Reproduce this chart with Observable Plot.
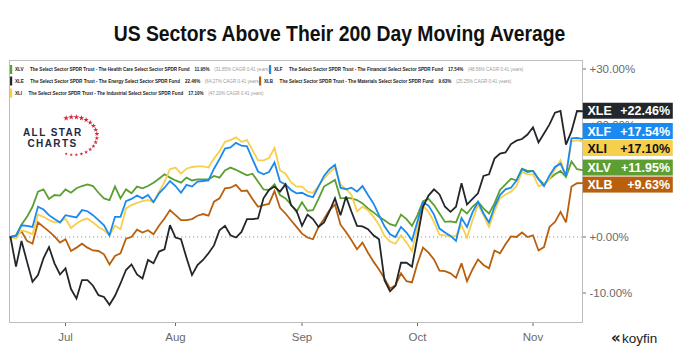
<!DOCTYPE html>
<html><head><meta charset="utf-8">
<script src="https://cdn.jsdelivr.net/npm/d3@7"></script>
<script src="https://cdn.jsdelivr.net/npm/@observablehq/plot@0.6"></script>
<style>
body{margin:0;background:#fff;}
#wrap{position:relative;width:679px;height:352px;overflow:hidden;font-family:"Liberation Sans",Arial,sans-serif;}
#title{position:absolute;left:0;width:679px;top:21px;text-align:center;font-family:"Liberation Sans",Arial,sans-serif;font-weight:bold;font-size:21.5px;color:#111;line-height:26px;transform:scaleX(0.9);transform-origin:339.5px 0;}
#chart{position:absolute;left:0;top:0;}
#deco{position:absolute;left:0;top:0;pointer-events:none;}
</style></head><body>
<div id="wrap"><div id="chart"></div><svg id="deco" width="679" height="352"></svg><div id="title">US Sectors Above Their 200 Day Moving Average</div></div>
<script>
// ---- data (percent change vs start, trading days Jun 16 - Nov 14) ----
const tickers = ["XLV", "XLF", "XLE", "XLB", "XLI"];
const fundNames = [
  "The Select Sector SPDR Trust - The Health Care Select Sector SPDR Fund",
  "The Select Sector SPDR Trust - The Financial Select Sector SPDR Fund",
  "The Select Sector SPDR Trust - The Energy Select Sector SPDR Fund",
  "The Select Sector SPDR Trust - The Materials Select Sector SPDR Fund",
  "The Select Sector SPDR Trust - The Industrial Select Sector SPDR Fund"
];
const cagrText = ["(31.85% CAGR 0.41 years)", "(48.56% CAGR 0.41 years)", "(64.27% CAGR 0.41 years)", "(25.25% CAGR 0.41 years)", "(47.20% CAGR 0.41 years)"];
const colors = ["#5c9e31", "#1b8af0", "#23272b", "#b9600f", "#f6d04d"];

const xle = [0,-5.3,-0.7,-4.4,-8.0,-6.8,-3.8,-1.8,-4.7,-6.7,
  -5.6,-9.3,-11.0,-7.7,-7.7,-8.7,-10.4,-10.7,-12.1,-10.5,
  -8.3,-5.9,-4.9,-6.7,-7.4,-4.1,-4.7,-2.6,-2.2,2.1,
  -0.1,-0.4,-3.7,-6.8,-5.0,-4.1,-2.9,-1.5,1.2,2.0,
  0.3,-0.1,0.9,3.2,3.2,3.3,6.9,8.4,9.0,8.1,
  9.4,5.7,4.7,2.0,4.0,3.2,1.8,2.6,4.6,6.9,
  3.9,7.2,4.5,2.0,1.9,1.4,0.3,-0.4,-7.7,-9.7,
  -8.7,-4.6,-4.6,-5.3,0.0,5.4,7.4,8.5,7.6,5.4,
  4.5,5.4,9.6,5.8,6.8,7.8,10.9,11.2,14.0,14.9,
  15.1,16.6,17.2,17.5,18.3,19.6,16.9,18.5,20.1,22.2,
  22.5,16.5,18.9,22.5,22.46];
const xlv = [0,0.3,2.2,3.6,5.4,8.1,8.5,6.8,7.5,7.4,
  8.5,7.9,8.7,9.1,9.4,9.1,7.9,6.9,6.6,9.0,
  6.9,8.5,7.8,9.0,8.7,9.1,9.7,10.4,11.2,10.6,
  10.1,9.7,10.6,10.1,10.3,10.3,10.3,10.9,10.6,11.9,
  12.4,12.0,11.5,11.0,11.3,9.9,8.5,8.4,9.4,7.5,
  6.9,5.8,4.5,6.2,4.7,4.8,6.8,9.0,9.6,10.2,
  6.9,7.0,6.9,6.6,6.0,5.1,4.4,3.6,3.0,2.3,
  2.0,4.0,3.2,2.0,3.9,6.4,6.8,5.7,4.2,2.7,
  2.8,2.6,5.0,4.2,5.4,6.3,5.1,4.2,6.0,8.4,
  9.4,10.4,10.1,12.2,11.8,11.8,10.4,9.4,10.4,11.2,
  11.8,10.7,13.5,12.1,11.95];
const xlf = [0,0.2,2.1,2.0,1.8,5.4,4.9,3.9,3.2,2.6,
  3.9,3.7,3.5,4.8,4.6,3.9,3.0,2.1,0.3,3.6,
  3.6,6.4,6.8,7.4,6.9,7.5,6.2,7.8,8.8,10.0,
  9.1,7.9,9.3,9.0,9.9,10.0,10.1,12.2,13.9,15.8,
  16.0,16.8,16.3,16.2,13.9,11.7,11.2,11.6,13.3,9.9,
  9.4,8.4,7.8,7.9,7.4,7.1,9.0,10.9,12.1,12.9,
  8.8,8.5,8.8,8.1,9.1,7.5,6.0,3.9,1.9,0.5,
  0.0,1.8,0.8,-0.6,2.8,6.2,5.6,4.0,1.5,0.8,
  0.2,-0.7,3.4,1.8,4.4,6.3,4.2,2.6,5.4,7.5,
  8.5,8.8,10.1,12.1,11.6,11.8,10.3,9.1,11.0,12.5,
  13.1,10.9,17.6,17.7,17.54];
const xli = [0,-0.3,1.2,0.9,0.5,4.0,3.6,3.0,2.6,2.6,
  3.3,1.6,2.4,3.0,3.3,2.6,1.8,1.2,0.3,2.0,
  1.4,5.1,5.7,6.1,6.4,6.6,6.2,8.1,9.8,12.1,
  12.4,11.3,12.2,12.5,12.6,12.6,12.4,14.0,15.3,17.0,
  17.3,17.8,17.0,17.3,15.5,13.7,13.7,14.1,15.9,11.9,
  11.3,9.8,9.0,9.0,8.1,7.9,9.1,10.4,11.5,12.4,
  9.4,8.6,7.5,4.6,5.4,4.8,3.6,2.2,0.2,-0.8,
  -1.2,0.3,-1.0,-2.5,1.8,5.6,4.5,2.7,0.4,0.3,
  0.1,0.2,2.1,-0.1,3.0,5.8,3.9,1.8,4.6,6.9,
  7.6,8.1,9.1,11.6,11.2,11.2,9.1,9.4,10.4,12.1,
  13.7,10.9,17.1,17.3,17.10];
const xlb = [0,0.2,1.0,-0.7,-1.2,2.6,1.8,1.0,0.1,-1.0,
  -0.4,-2.5,-1.9,-1.2,-1.9,-2.4,-2.5,-3.1,-4.9,-3.4,
  -2.9,-0.3,0.0,1.3,0.8,1.2,0.5,2.0,3.3,4.8,
  3.9,3.0,3.0,3.2,3.8,4.1,3.8,6.3,6.9,8.7,
  8.8,9.3,8.2,8.3,6.8,5.4,5.7,5.9,8.2,5.2,
  4.2,3.0,1.8,0.6,-0.1,-0.4,1.8,3.2,4.8,5.8,
  2.2,0.9,-0.6,-2.2,-1.0,-2.8,-4.4,-5.8,-7.4,-9.2,
  -8.6,-6.5,-7.9,-8.1,-4.7,-1.9,-2.8,-4.0,-6.0,-6.1,
  -6.5,-7.3,-4.7,-7.9,-5.8,-4.0,-5.0,-5.6,-2.4,-2.9,
  -1.3,0.1,0.0,0.8,0.0,0.3,-2.4,-1.8,1.8,2.7,
  4.5,2.6,9.0,9.6,9.63];
const seriesValues = [xlv, xlf, xle, xlb, xli];

const monthTickIdx = [10, 30, 53, 74, 95];
const monthLabels = ["Jul", "Aug", "Sep", "Oct", "Nov"];
const yTicks = [-10, 0, 20, 30];

// ---- layout ----
const W = 679, H = 352, mL = 9, mR = 97, mT = 60, mB = 30;
const yDomain = [-15.27, 31.52];
const xDomain = [-0.18, 104];
const xS = d3.scaleLinear(xDomain, [mL, W - mR]);
const yS = d3.scaleLinear(yDomain, [H - mB, mT]);

const series = tickers.map((t, k) => ({t, c: colors[k], v: seriesValues[k], name: fundNames[k], cagr: cagrText[k]}));
const drawOrder = ["XLB", "XLV", "XLI", "XLF", "XLE"];
const data = drawOrder.flatMap(t => {
  const s = series.find(d => d.t === t);
  return s.v.map((v, i) => ({i, v, t}));
});

// end labels with dodge
const gap = 17;
let labs = series.map(s => {
  const last = s.v[s.v.length - 1];
  return {t: s.t, c: s.c, last, y0: yS(last)};
}).sort((a, b) => a.y0 - b.y0);
let clusters = labs.map(l => ({items: [l]}));
function place(c) {
  const n = c.items.length;
  c.start = d3.mean(c.items, d => d.y0) - (n - 1) * gap / 2;
}
clusters.forEach(place);
let merged = true;
while (merged) {
  merged = false;
  for (let k = 0; k < clusters.length - 1; k++) {
    const a = clusters[k], b = clusters[k + 1];
    const aEnd = a.start + (a.items.length - 1) * gap;
    if (b.start - aEnd < gap) {
      const c = {items: a.items.concat(b.items)};
      place(c);
      clusters.splice(k, 2, c);
      merged = true;
      break;
    }
  }
}
clusters.forEach(c => c.items.forEach((d, k) => { d.py = c.start + k * gap; }));
labs.forEach(d => {
  d.ly = yS.invert(d.py);
  d.ly1 = yS.invert(d.py - 8);
  d.ly2 = yS.invert(d.py + 8);
  d.label = (d.last >= 0 ? "+" : "") + d.last.toFixed(2) + "%";
});
const boxX1 = xS.invert(W - mR + 0.8), boxX2 = xS.invert(W - mR + 90.8);

const chart = Plot.plot({
  width: W, height: H,
  marginLeft: mL, marginRight: mR, marginTop: mT, marginBottom: mB,
  style: {fontFamily: "'Liberation Sans', Arial, sans-serif", fontSize: "11.5px", background: "transparent", color: "#666"},
  x: {domain: xDomain},
  y: {domain: yDomain},
  color: {domain: tickers, range: colors},
  marks: [
    Plot.ruleY([0], {stroke: "#999", strokeDasharray: "1.2,2.8", strokeWidth: 1}),
    Plot.axisY(yTicks, {anchor: "right", tickSize: 3, tickPadding: 4, label: null, fontSize: 11.5, color: "#6a6a6a",
      tickFormat: d => (d >= 0 ? "+" : "") + d.toFixed(2) + "%"}),
    Plot.axisX(monthTickIdx, {anchor: "bottom", tickSize: 4, tickPadding: 6, label: null, fontSize: 11.5, color: "#6a6a6a",
      tickFormat: d => monthLabels[monthTickIdx.indexOf(d)]}),
    Plot.frame({stroke: "#bdbdbd"}),
    Plot.line(data, {x: "i", y: "v", z: "t", stroke: "t", strokeWidth: 1.8, strokeLinejoin: "miter", strokeMiterlimit: 3}),
    Plot.rect(labs, {x1: boxX1, x2: boxX2, y1: "ly1", y2: "ly2", fill: "t"}),
    Plot.text(labs, {x: xS.invert(W - mR + 5), y: "ly", text: "t", textAnchor: "start", fontWeight: "bold", fontSize: 12.5,
      fill: d => d.t === "XLI" ? "#111" : "#fff"}),
    Plot.text(labs, {x: xS.invert(W - mR + 87.5), y: "ly", text: "label", textAnchor: "end", fontWeight: "bold", fontSize: 12.5,
      fill: d => d.t === "XLI" ? "#111" : "#fff"})
  ]
});
document.getElementById("chart").appendChild(chart);

// ---- decorations: legend, logos ----
const deco = d3.select("#deco");
const legendPos = {XLV: [10, 69.5], XLF: [269, 69.5], XLE: [10, 81], XLB: [259, 81], XLI: [10, 93]};
series.forEach(s => {
  const [x0, yc] = legendPos[s.t];
  deco.append("rect").attr("x", x0).attr("y", yc - 4.5).attr("width", 2.2).attr("height", 9).attr("fill", s.c);
  const g = deco.append("g").attr("font-family", "'Liberation Sans', Arial, sans-serif").attr("font-size", 4.55);
  let x = x0 + 5;
  const parts = [[s.t, "#222", 600, 6.5], [s.name, "#222", 600, 5], [(s.v[s.v.length-1]).toFixed(2) + "%", "#222", 600, 4.5], [s.cagr, "#9a9a9a", 400, 0]];
  parts.forEach(([txt, col, wt, after]) => {
    const el = g.append("text").attr("x", x).attr("y", yc + 1.6).attr("fill", col).attr("font-weight", wt).text(txt);
    x += el.node().getComputedTextLength() + after;
  });
});

// All Star Charts logo
const logo = deco.append("g").attr("font-family", "'Liberation Sans', Arial, sans-serif").attr("font-weight", "bold").attr("fill", "#1c2a48");
logo.append("text").attr("x", 23).attr("y", 136).attr("font-size", 10).attr("letter-spacing", 1.4).text("ALL STAR");
logo.append("text").attr("x", 27.5).attr("y", 147).attr("font-size", 10).attr("letter-spacing", 1.4).text("CHARTS");
const nStars = 18;
for (let k = 0; k < nStars; k++) {
  const a = (-110 + k * 220 / (nStars - 1)) * Math.PI / 180;
  const sx = 74 + 23 * Math.cos(a), sy = 136 + 19 * Math.sin(a);
  const sz = 11 - k * 8 / (nStars - 1);
  deco.append("path").attr("transform", `translate(${sx},${sy})`)
    .attr("d", d3.symbol(d3.symbolStar, sz)()).attr("fill", "#d3243c");
}

// koyfin logo
deco.append("text").attr("x", 611).attr("y", 343).attr("font-size", 15).attr("font-weight", "bold").attr("fill", "#222")
  .attr("font-family", "'DejaVu Sans', sans-serif").text("«");
deco.append("text").attr("x", 622).attr("y", 343).attr("font-size", 13.5).attr("fill", "#222")
  .attr("font-family", "'Liberation Sans', Arial, sans-serif").text("koyfin");
</script>
</body></html>
